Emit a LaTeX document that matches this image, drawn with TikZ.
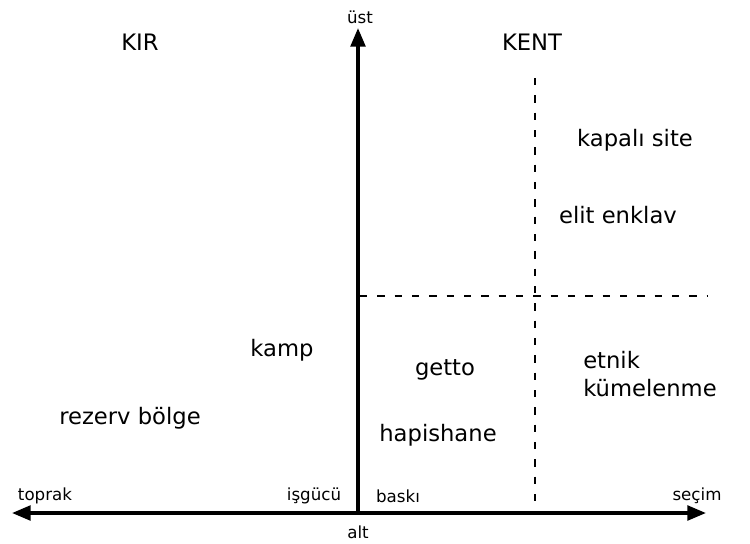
\documentclass[tikz,border=0pt]{standalone}
\usepackage{fontspec}
\setmainfont{DejaVu Sans}
\usetikzlibrary{arrows.meta}

\begin{document}
\begin{tikzpicture}[
  x=0.75pt, y=-0.75pt,
  axis/.style={line width=2.6pt},
  tip/.style={-{Triangle[length=14pt,width=11pt]}},
  split/.style={line width=1.8pt, dash pattern=on 5.5pt off 7.5pt},
  zone/.style={font=\fontsize{17}{21}\selectfont, inner sep=0pt},
  pole/.style={font=\fontsize{12.5}{15}\selectfont, inner sep=0pt},
]
\useasboundingbox (0,0) rectangle (750,543);
% axes
\coordinate (origin) at (358,513);
\coordinate (west) at (12,513);
\coordinate (east) at (706,513);
\coordinate (north) at (358,28);
\draw[axis, {Triangle[length=14pt,width=11pt]}-{Triangle[length=14pt,width=11pt]}] (west) -- (east);
\draw[axis, tip] (origin) -- (north);
% dashed partitions
\coordinate (hstart) at (360,296);
\coordinate (hend) at (708,296);
\coordinate (vstart) at (535,78);
\coordinate (vend) at (535,513);
\draw[split] (hstart) -- (hend);
\draw[split] (vstart) -- (vend);
% axis labels
\node[pole] (ust) at (360,17) {üst};
\node[pole] (alt) at (358,532) {alt};
\node[pole] (toprak) at (45,496) {toprak};
\node[pole] (isgucu) at (314,496) {işgücü};
\node[pole] (baski) at (398,496) {baskı};
\node[pole] (secim) at (697,496) {seçim};
% regions
\node[zone] (kir) at (140,42) {KIR};
\node[zone] (kent) at (532,42) {KENT};
\node[zone] (site) at (635,140) {kapalı site};
\node[zone] (enklav) at (618,215) {elit enklav};
\node[zone] (kamp) at (282,350) {kamp};
\node[zone] (getto) at (445,370) {getto};
\node[zone, align=left, anchor=west] (etnik) at (583,374) {etnik\\kümelenme};
\node[zone] (rezerv) at (130,418) {rezerv bölge};
\node[zone] (hapis) at (438,435) {hapishane};
\end{tikzpicture}
\end{document}
